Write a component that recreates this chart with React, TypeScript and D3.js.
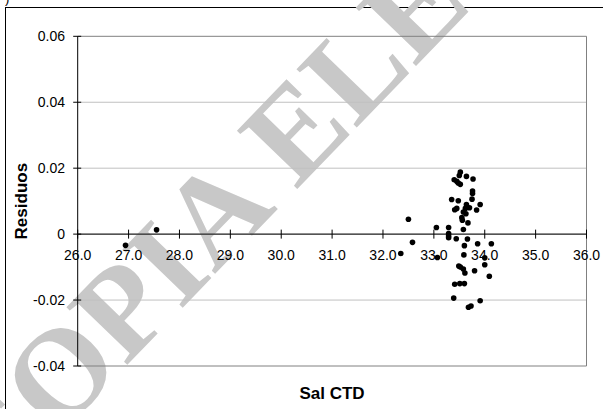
import React from "react";
import * as d3 from "d3";

// Salinity (CTD) vs. residual
const salCTD = [
  26.94, 27.55, 32.35, 32.5, 32.58, 33.05, 33.07, 33.29, 33.29, 33.29, 33.29,
  33.35, 33.4, 33.45, 33.48, 33.5, 33.52, 33.52, 33.48, 33.41, 33.45, 33.44,
  33.41, 33.39, 33.49, 33.52, 33.51, 33.56, 33.58, 33.58, 33.62, 33.64, 33.63,
  33.6, 33.59, 33.58, 33.61, 33.6, 33.64, 33.66, 33.67, 33.68, 33.73, 33.75,
  33.76, 33.76, 33.77, 33.8, 33.84, 33.86, 33.91, 33.91, 34.0, 34.0, 34.09,
  34.13, 33.55, 33.7,
];
const residuos = [
  -0.0034, 0.0013, -0.0059, 0.0045, -0.0025, 0.002, -0.0071, 0.002, 0.0002,
  -0.0006, -0.0011, 0.0105, 0.0165, 0.016, 0.0155, 0.0178, 0.0188, 0.0151,
  0.0101, 0.0074, 0.0078, -0.0014, -0.0152, -0.0194, -0.0097, -0.01, -0.015,
  0.0042, 0.0014, 0.0067, 0.0078, 0.009, 0.0062, -0.0035, -0.0063, -0.0106,
  -0.0118, -0.015, 0.0175, -0.0015, 0.0034, -0.0222, -0.0218, 0.0106, 0.0123,
  0.0131, 0.0167, -0.0111, 0.0073, -0.0029, 0.009, -0.0202, -0.0072, -0.0093,
  -0.0128, -0.0029, 0.005, 0.008,
];
const xTicks = [26, 27, 28, 29, 30, 31, 32, 33, 34, 35, 36];
const yTicks = [-0.04, -0.02, 0, 0.02, 0.04, 0.06];

const W = 603;
const H = 409;
const sans = "'Liberation Sans', Arial, sans-serif";

export default function App() {
  const x = d3.scaleLinear().domain([26, 36]).range([77.7, 586.5]);
  const y = d3.scaleLinear().domain([-0.04, 0.06]).range([366, 36.3]);
  const y0 = y(0);
  const fmtX = (v: number) => v.toFixed(1);
  const fmtY = (v: number) => (v === 0 ? "0" : v.toFixed(2));
  const points = salCTD.map((s, i) => [s, residuos[i]] as [number, number]);

  return (
    <svg
      width={W}
      height={H}
      style={{ position: "absolute", left: 0, top: 0, background: "#fff" }}
    >
      {/* outer frame */}
      <rect x={5.5} y={7.5} width={620} height={420} fill="none" stroke="#000" strokeWidth={1} />
      <text x={5} y={3} fontFamily={sans} fontSize={13} fill="#000">)</text>

      {/* watermark */}
      <text
        transform="translate(-8,505) rotate(-46)"
        fontFamily="'Liberation Serif', 'Times New Roman', serif"
        fontWeight="bold"
        fontSize={128}
        fill="#c8c8c8"
      >
        COPIA ELECTRÓNICA
      </text>

      {/* gridlines */}
      {yTicks.map((t) => (
        <line
          key={"g" + t}
          x1={x(26)}
          x2={x(36)}
          y1={y(t)}
          y2={y(t)}
          stroke={t === 0.06 || t === -0.04 ? "#808080" : "#c0c0c0"}
          strokeWidth={1}
        />
      ))}
      <line x1={x(36)} x2={x(36)} y1={y(0.06)} y2={y(-0.04)} stroke="#808080" />

      {/* y axis */}
      <line x1={x(26)} x2={x(26)} y1={y(0.06)} y2={y(-0.04)} stroke="#000" />
      {yTicks.map((t) => (
        <g key={"y" + t}>
          <line x1={x(26) - 4.5} x2={x(26) + 3.5} y1={y(t)} y2={y(t)} stroke="#000" />
          <text x={65} y={y(t) + 5} textAnchor="end" fontFamily={sans} fontSize={14} fill="#000">
            {fmtY(t)}
          </text>
        </g>
      ))}

      {/* x axis at zero */}
      <line x1={x(26)} x2={x(36)} y1={y0} y2={y0} stroke="#000" />
      {xTicks.map((t) => (
        <g key={"x" + t}>
          <line x1={x(t)} x2={x(t)} y1={y0 - 4.5} y2={y0 + 4.5} stroke="#000" />
          <text x={x(t)} y={y0 + 26} textAnchor="middle" fontFamily={sans} fontSize={14} fill="#000">
            {fmtX(t)}
          </text>
        </g>
      ))}

      {/* points */}
      {points.map(([s, r], i) => (
        <circle key={i} cx={x(s)} cy={y(r)} r={2.8} fill="#000" />
      ))}

      {/* axis titles */}
      <text x={332} y={399} textAnchor="middle" fontFamily={sans} fontWeight="bold" fontSize={17} fill="#000">
        Sal CTD
      </text>
      <text
        transform={`translate(27,${(y(0.06) + y(-0.04)) / 2}) rotate(-90)`}
        textAnchor="middle"
        fontFamily={sans}
        fontWeight="bold"
        fontSize={17}
        fill="#000"
      >
        Residuos
      </text>
    </svg>
  );
}
